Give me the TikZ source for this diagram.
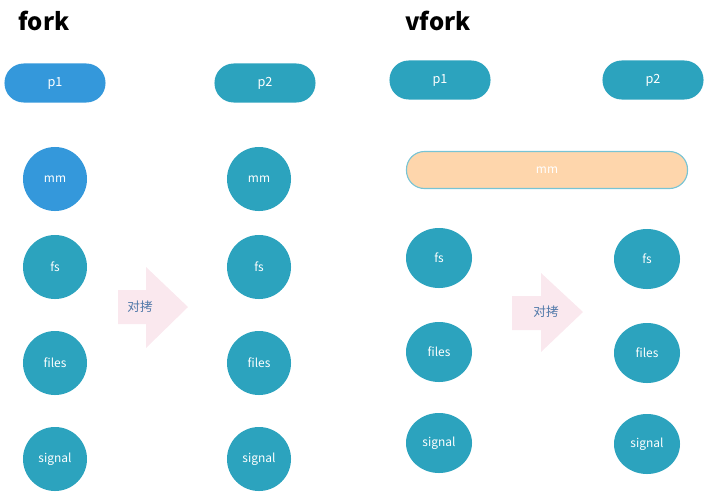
\documentclass[tikz,border=0pt]{standalone}
\usepackage{fontspec}
\setmainfont{Noto Sans CJK SC}
\usetikzlibrary{shapes.geometric, positioning}
\definecolor{pblue}{RGB}{52,152,219}
\definecolor{pteal}{RGB}{44,163,190}
\definecolor{peach}{RGB}{254,214,172}
\definecolor{peachline}{RGB}{120,196,212}
\definecolor{apink}{RGB}{250,232,238}
\definecolor{atext}{RGB}{82,122,170}

\begin{document}
\begin{tikzpicture}[
    x=0.025cm, y=-0.025cm,
    proc/.style={
      rectangle, fill=pteal, text=white,
      minimum width=2.525cm, minimum height=0.975cm,
      rounded corners=0.48cm, inner sep=0pt, font=\fontsize{9}{10}\selectfont
    },
    res/.style={
      circle, fill=pteal, text=white, minimum size=1.6cm,
      inner sep=0pt, font=\fontsize{8.5}{10}\selectfont
    },
    vres/.style={
      ellipse, fill=pteal, text=white, minimum width=1.65cm,
      minimum height=1.5cm, inner sep=0pt, font=\fontsize{8.5}{10}\selectfont
    },
    shr/.style={
      rectangle, draw=peachline, thick, fill=peach, text=white,
      minimum width=7.025cm, minimum height=0.925cm,
      rounded corners=0.45cm, inner sep=0pt, font=\fontsize{8.5}{10}\selectfont
    },
    hd/.style={font=\fontsize{17}{20}\selectfont\bfseries},
    cp/.style={text=atext, font=\fontsize{9}{10}\selectfont}
  ]
    \useasboundingbox (0,0) rectangle (714,501);

    % --- fork ---
    \node[hd] (t1) at (44,21) {fork};
    \node[proc, fill=pblue] (fp1) at (55,83) {p1};
    \node[proc] (fp2) at (265,83) {p2};

    \node[res, fill=pblue] (fmm1) at (55,179) {mm};
    \node[res] (ffs1) at (55,267) {fs};
    \node[res] (ffl1) at (55,363) {files};
    \node[res] (fsg1) at (55,459) {signal};

    \node[res] (fmm2) at (259,179) {mm};
    \node[res] (ffs2) at (259,267) {fs};
    \node[res] (ffl2) at (259,363) {files};
    \node[res] (fsg2) at (259,459) {signal};

    \fill[apink] (118,290) -- (146,290) -- (146,267) -- (188,307)
      -- (146,348) -- (146,324) -- (118,324) -- cycle;
    \node[cp] (fcp) at (140,307) {对拷};

    % --- vfork ---
    \node[hd] (t2) at (438,21) {vfork};
    \node[proc] (vp1) at (440,80) {p1};
    \node[proc] (vp2) at (653,80) {p2};

    \node[shr] (vmm) at (547,170) {mm};

    \foreach \nm/\txt/\yy in {fs/fs/258, fl/files/352, sg/signal/443}{
      \node[vres] (v\nm1) at (439,\yy) {\txt};
      \node[vres] (v\nm2) at (647,\yy+1) {\txt};
    }

    \fill[apink] (512,296) -- (541,296) -- (541,273) -- (583,312)
      -- (541,352) -- (541,330) -- (512,330) -- cycle;
    \node[cp] (vcp) at (546,312) {对拷};
\end{tikzpicture}
\end{document}
